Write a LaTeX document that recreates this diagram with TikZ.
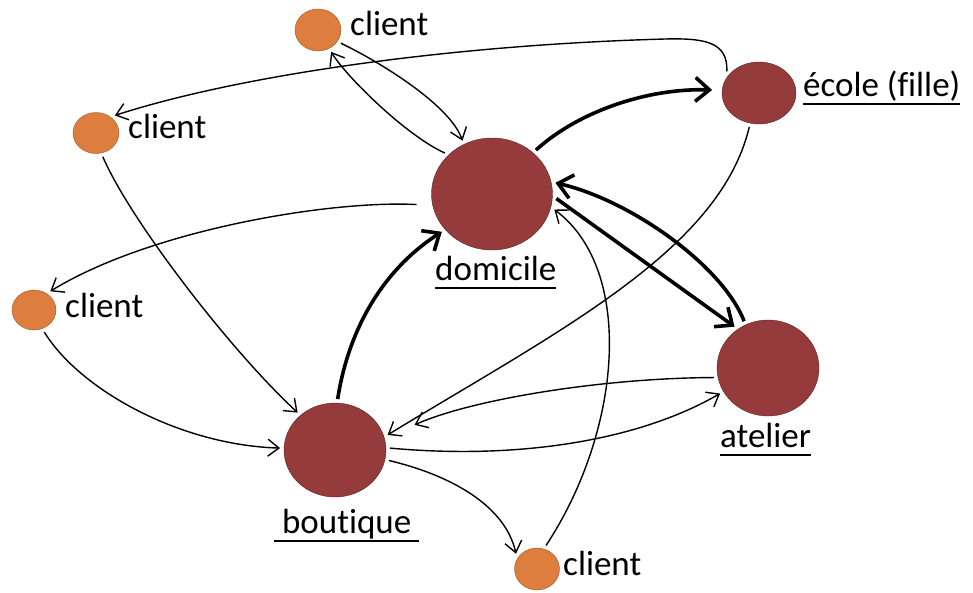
\documentclass[tikz,border=0pt]{standalone}
\usepackage{fontspec}
\setmainfont{Carlito}[Ligatures=NoCommon]
\usetikzlibrary{arrows.meta,shapes.geometric}
\definecolor{clientc}{HTML}{DE7E3E}
\definecolor{placec}{HTML}{953B3B}
\newcommand\myul[1]{\setbox0\hbox{#1}\rlap{\rule[-8.5pt]{\wd0}{1.8pt}}\box0}
\begin{document}
\begin{tikzpicture}[x=1pt,y=-1pt,
  client/.style={ellipse, fill=clientc, draw=clientc!70!black, line width=0.4pt, inner sep=0pt, outer sep=4pt},
  place/.style={ellipse, fill=placec, draw=placec!60!black, line width=0.4pt, inner sep=0pt, outer sep=4pt},
  lab/.style={anchor=base west, inner sep=0pt, font=\fontsize{35}{42}\selectfont},
  flow/.style={line width=1.4pt, -{Straight Barb[length=11pt,width=17pt]}},
  mainflow/.style={line width=3.6pt, -{Straight Barb[length=14pt,width=24pt]}},
]
\useasboundingbox (0,0) rectangle (973,592);

\node[client, minimum width=46pt, minimum height=42pt] (cT) at (318,30) {};
\node[client, minimum width=46pt, minimum height=41pt] (cL1) at (96,133) {};
\node[client, minimum width=44pt, minimum height=40pt] (cL2) at (34,310) {};
\node[client, minimum width=45pt, minimum height=42pt] (cB) at (537,569) {};
\node[place, minimum width=121pt, minimum height=112pt] (dom) at (492,194) {};
\node[place, minimum width=74pt, minimum height=62pt] (eco) at (759,93) {};
\node[place, minimum width=102pt, minimum height=96pt] (ate) at (768,368) {};
\node[place, minimum width=102pt, minimum height=94pt] (bou) at (335,450) {};

\node[lab] (lcT) at (350,35) {client};
\node[lab] (lcL1) at (128,138) {client};
\node[lab] (lcL2) at (65,317) {client};
\node[lab] (lcB) at (563,575) {client};
\node[lab] (leco) at (803,96) {\myul{école (fille)}};
\node[lab] (ldom) at (435,280) {\myul{domicile}};
\node[lab] (late) at (720,447) {\myul{atelier}};
\node[lab] (lbou) at (274,533) {\myul{\ boutique\ }};

% thin flows
\draw[flow] (cT.-30) .. controls (380,62) and (450,105) .. (dom.119);
\draw[flow] (dom.139) .. controls (405,135) and (345,75) .. (cT.-59);
\draw[flow] (eco.146) .. controls (728,42) and (705,38) .. (665,39) .. controls (450,45) and (240,75) .. (cL1.43);
\draw[flow] (eco.254) .. controls (720,250) and (560,330) .. (bou.16);
\draw[flow, shorten >=29pt] (ate.190) .. controls (600,378) and (470,400) .. (bou.14);
\draw[flow] (bou.2) .. controls (520,460) and (640,440) .. (ate.208);
\draw[flow] (bou.-11) .. controls (450,475) and (505,505) .. (cB.144);
\draw[flow] (cB.69) .. controls (622,430) and (635,270) .. (dom.-14);
\draw[flow, shorten <=12pt] (dom.190) .. controls (330,200) and (150,230) .. (cL2.49);
\draw[flow] (cL1.-74) .. controls (130,220) and (230,350) .. (bou.135);
\draw[flow] (cL2.-65) .. controls (80,390) and (180,445) .. (bou.178);

% thick flows
\draw[mainflow, shorten >=6pt] (dom.45) .. controls (580,110) and (650,88) .. (eco.176);
\draw[mainflow] (ate.117) .. controls (722,265) and (630,200) .. (dom.10);
\draw[mainflow] (dom.-4) -- (ate.129);
\draw[mainflow] (bou.87) .. controls (350,320) and (390,265) .. (dom.217);
\end{tikzpicture}
\end{document}
